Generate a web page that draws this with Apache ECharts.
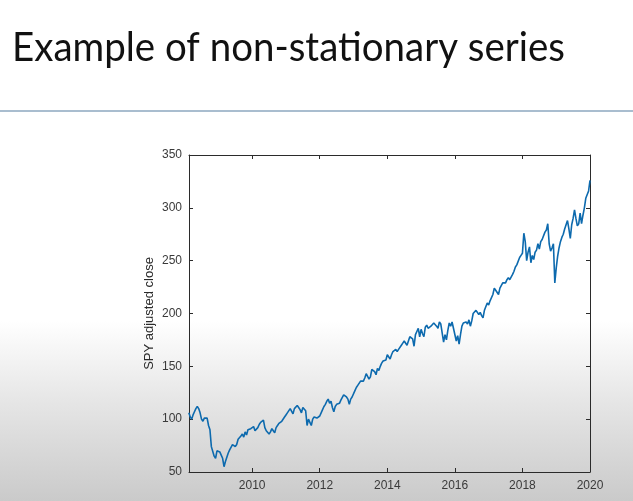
<!DOCTYPE html>
<html lang="en">
<head>
    <meta charset="UTF-8">
    <title>Example of non-stationary series</title>
    <script src="https://cdn.jsdelivr.net/npm/echarts@6/dist/echarts.min.js"></script>
    <style>
        html, body { margin: 0; padding: 0; }
        #mybox { width: 633px; height: 501px; }
    </style>
</head>
<body>
<div id="mybox"></div>
<script>
    // SPY adjusted close: one value per half month (1st, 16th)
    var spy2008 = [106, 102, 100, 104, 107, 110, 112, 110, 106, 100, 98, 101, 102, 101, 94, 90, 74, 75, 65, 63, 70];
    var spy2009 = [70, 69, 66, 63, 55, 60, 64, 68, 71, 72, 76, 75, 74, 76, 81, 82, 84, 86, 83, 88, 85, 90, 90, 91];
    var spy2010 = [92, 93, 89, 90, 92, 95, 97, 98, 99, 92, 89, 90, 86, 88, 91, 89, 87, 92, 94, 96, 97, 98, 99, 102];
    var spy2011 = [104, 106, 107, 110, 109, 105, 110, 109, 113, 111, 109, 106, 111, 110, 108, 94, 100, 97, 94, 100, 102, 102, 101, 100];
    var spy2012 = [103, 106, 109, 112, 114, 117, 119, 115, 117, 111, 107, 112, 114, 114, 115, 118, 119, 123, 122, 121, 119, 114, 119, 121];
    var spy2013 = [122, 127, 130, 132, 132, 136, 137, 136, 139, 143, 142, 138, 140, 147, 148, 145, 142, 148, 146, 150, 153, 155, 156, 156];
    var spy2014 = [161, 162, 157, 161, 164, 163, 166, 164, 166, 167, 170, 172, 174, 175, 170, 174, 178, 179, 176, 169, 180, 183, 186, 178];
    var spy2015 = [185, 181, 178, 187, 189, 186, 185, 188, 188, 191, 190, 188, 186, 192, 190, 190, 173, 180, 175, 184, 191, 188, 192, 186];
    var spy2016 = [186, 174, 179, 171, 180, 188, 191, 192, 192, 190, 194, 188, 193, 200, 201, 203, 202, 199, 201, 198, 196, 203, 204, 210];
    var spy2017 = [208, 212, 212, 218, 224, 222, 221, 218, 224, 225, 229, 229, 229, 232, 234, 232, 233, 237, 240, 244, 246, 247, 253, 255];
    var spy2018 = [257, 276, 268, 250, 258, 263, 248, 255, 251, 258, 260, 266, 261, 268, 270, 271, 277, 279, 285, 266, 259, 262, 266, 229];
    var spy2019 = [243, 254, 262, 268, 272, 275, 280, 284, 288, 280, 271, 284, 290, 298, 290, 283, 285, 295, 285, 293, 300, 309, 308, 316];
    var spy2020 = [326];

    var xTicks = [2010, 2012, 2014, 2016, 2018, 2020];

    // year, first half-month slot, values
    var years = [
        [2008, 3, spy2008], [2009, 0, spy2009], [2010, 0, spy2010], [2011, 0, spy2011],
        [2012, 0, spy2012], [2013, 0, spy2013], [2014, 0, spy2014], [2015, 0, spy2015],
        [2016, 0, spy2016], [2017, 0, spy2017], [2018, 0, spy2018], [2019, 0, spy2019],
        [2020, 0, spy2020]
    ];
    var points = [];
    years.forEach(function (y) {
        y[2].forEach(function (v, i) {
            points.push([y[0] + (y[1] + i) / 24, v]);
        });
    });

    var titleText = 'Example of non-stationary series';
    var titleFont = '40px Lato';
    var ctx = document.createElement('canvas').getContext('2d');
    ctx.font = titleFont;
    var titleScale = 553 / ctx.measureText(titleText).width;

    var ink = '#2b2b2b';
    var tickFont = { color: '#3a3a3a', fontSize: 12, fontFamily: 'Liberation Sans, Arial, sans-serif' };

    var mychart = echarts.init(document.getElementById('mybox'));
    mychart.setOption({
        animation: false,
        backgroundColor: {
            type: 'linear', x: 0, y: 0, x2: 0, y2: 1,
            colorStops: [
                { offset: 0, color: '#ffffff' },
                { offset: 0.64, color: '#ffffff' },
                { offset: 0.8, color: '#e6e6e6' },
                { offset: 1, color: '#cacaca' }
            ]
        },
        graphic: [
            {
                type: 'text',
                x: 12, y: 48,
                scaleX: titleScale,
                style: { text: titleText, font: titleFont, fill: '#111111', verticalAlign: 'middle' }
            },
            {
                type: 'rect',
                shape: { x: 0, y: 110, width: 633, height: 2 },
                style: { fill: '#a9bdcf' }
            }
        ],
        grid: { left: 189, top: 155, right: 43, bottom: 29, containLabel: false },
        xAxis: [{
            type: 'value',
            min: 2008.13,
            max: 2020,
            position: 'bottom',
            axisLine: { lineStyle: { color: ink, width: 1 } },
            axisTick: { inside: true, length: 4, customValues: xTicks, lineStyle: { color: ink } },
            axisLabel: Object.assign({ customValues: xTicks, margin: 8, formatter: function (v) { return String(Math.round(v)); } }, tickFont),
            splitLine: { show: false }
        }, {
            type: 'value',
            min: 2008.13,
            max: 2020,
            position: 'top',
            axisLine: { lineStyle: { color: ink, width: 1 } },
            axisTick: { inside: true, length: 4, customValues: xTicks, lineStyle: { color: ink } },
            axisLabel: { show: false },
            splitLine: { show: false }
        }],
        yAxis: [{
            type: 'value',
            min: 50,
            max: 350,
            interval: 50,
            position: 'left',
            name: 'SPY adjusted close',
            nameLocation: 'middle',
            nameGap: 33,
            nameMoveOverlap: false,
            nameTextStyle: { color: ink, fontSize: 13, fontFamily: 'Liberation Sans, Arial, sans-serif' },
            axisLine: { show: true, lineStyle: { color: ink, width: 1 } },
            axisTick: { show: true, inside: true, length: 4, lineStyle: { color: ink } },
            axisLabel: Object.assign({ margin: 7 }, tickFont),
            splitLine: { show: false }
        }, {
            type: 'value',
            min: 50,
            max: 350,
            interval: 50,
            position: 'right',
            axisLine: { show: true, lineStyle: { color: ink, width: 1 } },
            axisTick: { show: true, inside: true, length: 4, lineStyle: { color: ink } },
            axisLabel: { show: false },
            splitLine: { show: false }
        }],
        series: [{
            name: 'SPY',
            type: 'line',
            data: points,
            showSymbol: false,
            lineStyle: { color: '#0d6aae', width: 1.6 }
        }]
    });
</script>
</body>
</html>
